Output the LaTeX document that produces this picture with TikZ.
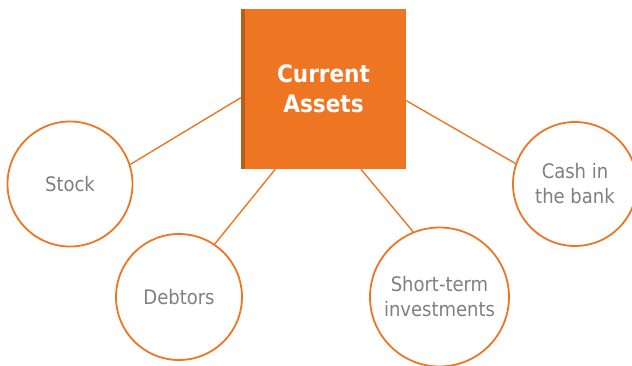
\documentclass[tikz,border=0pt]{standalone}
\usepackage{fontspec}
\setmainfont{DejaVu Sans Condensed}

\definecolor{assetorange}{HTML}{EE7623}
\definecolor{assetdark}{HTML}{B65E1B}
\definecolor{assetgrey}{HTML}{808080}

\begin{document}
\begin{tikzpicture}[x=1pt,y=-1pt]
\tikzstyle{item}=[circle, draw=assetorange, line width=1.8pt, fill=white, text=assetgrey, align=center, inner sep=0pt, font=\fontsize{20}{25}\selectfont]
\tikzstyle{link}=[draw=assetorange, line width=1.4pt]

\useasboundingbox (0,0) rectangle (632,365);

% centre box with its darker left strip
\node[fill=assetorange, text=white, minimum width=165pt, minimum height=160pt, inner sep=0pt, align=center, font=\bfseries\fontsize{24}{30}\selectfont] (ca) at (323.5,89) {Current\\Assets};
\fill[assetdark] (ca.north west) rectangle ++(4,160);

\node[item, minimum size=125pt] (stock) at (70,184) {Stock};
\node[item, minimum size=126pt] (debt) at (179,297) {Debtors};
\node[item, minimum size=139pt] (short) at (439.5,297) {Short-term\\investments};
\node[item, minimum size=124pt] (cash) at (575,184) {Cash in\\the bank};

\foreach \from/\to in {stock.18/ca.186.9, debt.56/ca.239.3, short.112/ca.295.7, cash.161/ca.352.4}
\draw [link] (\from) -- (\to);

\end{tikzpicture}
\end{document}
